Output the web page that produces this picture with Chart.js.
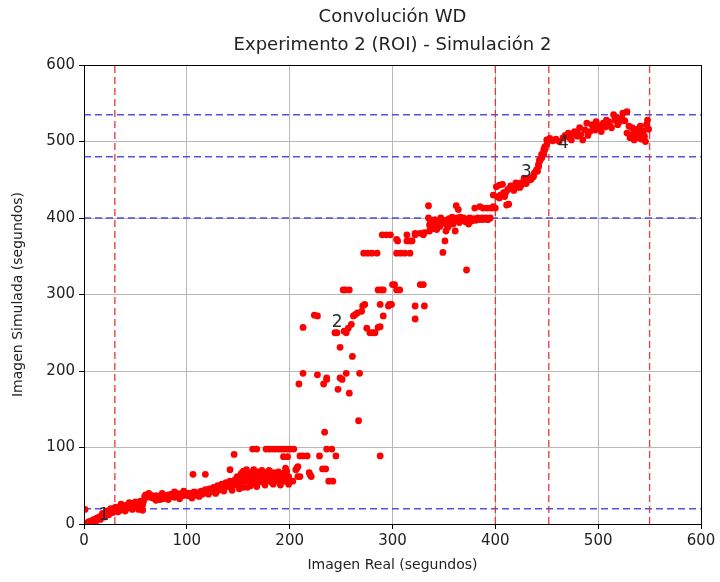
<!DOCTYPE html>
<html>
<head>
<meta charset="utf-8">
<script src="https://cdn.jsdelivr.net/npm/chart.js@4/dist/chart.umd.min.js"></script>
<style>
  html, body { margin: 0; padding: 0; background: #fff; }
  canvas { display: block; }
</style>
</head>
<body>
<canvas id="c" width="720" height="582"></canvas>
<script>
// ---- Data (seconds) : [Imagen Real, Imagen Simulada] ----
const segStart = [[0,0],[1,0],[2,1],[3,1],[4,2],[5,3],[6,3],[7,4],[8,4],[9,5],[10,6],[11,6],[12,7],[13,8],[14,8],[15,9],[16,10],[17,11],[18,11],[19,12],[20,13],[21,14],[22,14],[23,15],[24,16],[25,17],[26,17],[27,18],[28,19],[29,20],[30,21],[1,19],[12,4],[16,6],[20,9],[24,12],[18,14],[22,17],[26,20],[28,15]];
const segLow = [[31,22],[32,18],[33,21],[34,17],[35,20],[36,23],[37,19],[38,21],[39,24],[40,20],[41,22],[42,25],[43,21],[44,23],[45,26],[46,22],[47,24],[48,27],[49,23],[50,25],[51,28],[52,22],[53,26],[54,24],[55,27],[56,20],[57,25],[58,30],
  [33,16],[36,26],[40,17],[44,28],[47,19],[50,29],[53,19],[55,30],[57,18],
  [59,36],[60,38],[61,35],[62,37],[63,36],[64,38],[65,35],[66,37],[67,34],[68,36],[69,35],[70,37],[71,33],[72,35],[73,36],[74,32],[75,34],[76,36],[77,33],[78,35],[79,37],[80,34],[81,36],[82,38],[83,35],[84,37],[85,39],[86,36],[87,38],[88,35],[89,37],[90,40],[91,37],[92,39],[93,36],[94,38],[95,40],[96,37],[97,39],[98,41],[99,38],[100,40],
  [63,40],[70,31],[76,40],[82,32],[88,42],[93,33],[97,43]];
const segBand = [[101,37],[103,40],[104,36],[106,39],[107,42],[108,38],[110,41],[111,37],[112,40],[114,43],[115,39],[117,42],[118,45],[119,41],[120,44],[122,46],[123,42],[125,45],[126,48],[127,43],[129,46],[130,50],[131,44],[133,48],[134,52],[135,47],[137,50],[138,54],[139,49],[141,52],[142,56],[143,48],[145,55],[146,51],[147,58],[148,53],[150,57],[151,61],[152,54],[154,59],[155,48],[156,62],[157,56],[158,60],[160,64],[161,57],[162,50],[163,62],[165,58],[166,65],[167,52],[168,60],[170,63],[171,55],[172,66],[174,59],[175,62],[176,56],[178,64],[179,60],[181,58],[182,55],[184,62],[185,66],[187,57],[188,63],[190,55],[192,61],[193,56],[195,64],[196,58],[198,55],[199,62],
  [105,34],[112,36],[121,39],[128,40],[136,43],[144,44],[149,62],[153,66],[157,69],[161,67],[165,71],[169,68],[173,70],[177,67],[180,70],[186,64],[189,68],[193,66],[197,69],[151,46],[159,48],[168,49],[176,51],[184,52],[191,51],[199,52]];
const segBandOut = [[106,65],[118,65],[142,71],[146,91],[155,69],[158,71],[164,98],[168,98],[171,64],[177,98],[180,98],[183,98],[184,67],[186,98],[189,98],[192,98],[194,88],[195,98],[196,73],[198,88],[198,98],[201,98],[204,98],
  [190,56],[195,56],[203,56],[207,73],[208,75],[206,71],[208,62],[210,62],[210,89],[213,89],[217,89],[219,67],[220,64],[221,62],[229,89],[232,72],[235,72],[234,120],[236,98],[238,56],[241,98],[242,56],[245,89],[288,89],[267,135]];
const segRise = [[209,183],[213,197],[213,257],[224,273],[227,272],[227,195],[233,183],[236,189],[236,191],[247,176],[249,191],[251,189],[255,197],[258,171],[268,197],[249,231],[261,219],[252,306],[254,306],[258,306],[246,250],[244,250],[253,252],[255,250],[257,256],[260,261],[262,272],[266,276],[270,278],[271,285],[264,274],[275,256],[278,250],[281,250],[283,250],[286,257],[288,258],[291,272],[273,287],[288,287],[297,287],[299,287],[296,285],[286,306],[289,306],[291,306],[302,313],[304,306],[307,306],[300,313],[327,313],[330,313],[322,285],[331,285],[322,268],[272,354],[276,354],[280,354],[285,354],[294,378],[290,378],[298,378],[304,372],[305,370]];
const segPlateau = [[304,354],[308,354],[312,354],[317,354],[314,378],[314,370],[317,370],[319,370],[322,378],[322,380],[327,380],[330,378],[331,381],[336,383],[335,416],[343,385],[351,370],[349,355],[352,383],[361,383],[362,416],[364,411],[372,332],[380,413],[385,415],[388,413],[392,413],[396,413],[398,415],[400,413],[336,391],[341,386],
  [335,400],[337,395],[339,392],[341,398],[343,390],[345,396],[347,400],[349,393],[351,397],[353,391],[355,399],[357,395],[359,392],[361,398],[363,400],[365,394],[367,397],[369,400],[371,395],[373,398],[375,400],[377,396],[379,399],[381,397],[383,400],[385,398],[387,400],[389,399],[391,400],[393,398],[395,400],[388,398],[392,398],
  [338,388],[346,389],[354,388],[358,401],[366,401],[374,392]];
const segClimb = [[401,441],[404,443],[398,430],[404,426],[409,428],[411,417],[408,433],[412,437],[416,439],[419,441],[422,443],[425,446],[429,448],[432,450],[435,451],[437,454],[438,459],[440,463],[442,470],[443,476],[445,483],[447,489],[448,493],[450,496],[451,500],[414,439],[421,440],[426,444],[434,450],[437,455],[441,461],[442,467],[443,474],[445,478],[447,483],[448,489],[407,444],[410,433],[413,418],[415,442],[405,430],[402,428],
  [418,436],[424,440],[430,445],[420,446],[428,452]];
const segTop = [[450,502],[453,504],[456,501],[459,503],[462,500],[466,505],[471,511],[474,502],[477,513],[480,507],[482,518],[485,502],[489,524],[492,513],[495,520],[498,526],[502,518],[505,524],[508,528],[511,522],[515,535],[518,531],[521,526],[524,537],[528,539],
  [468,508],[472,505],[476,509],[479,512],[483,509],[487,515],[490,508],[494,522],[497,515],[500,521],[503,513],[507,519],[510,526],[513,518],[516,528],[519,522],[523,531],[526,527]];
const segTail = [[528,511],[531,505],[533,518],[535,502],[537,512],[539,508],[541,520],[542,503],[544,514],[545,507],[547,522],[548,528],[546,500],[530,520],[536,509],[540,505],[543,511],[538,516],[534,510],[549,516]];

// reference lines
const vLines = [30, 400, 452, 550];
const hLines = [20, 400, 480, 535];
// point labels
const labelTexts = ['1', '2', '3', '4'];
const labelX = [14, 241, 425, 461];
const labelY = [5, 258, 454, 491];
// titles
const titleLines = ['Convolución WD', 'Experimento 2 (ROI) - Simulación 2'];
// axes
const axisMin = 0, axisMax = 600, axisStep = 100;

const FONT = "'DejaVu Sans', 'Liberation Sans', sans-serif";

const allPoints = [].concat(segStart, segLow, segBand, segBandOut, segRise, segPlateau, segClimb, segTop, segTail)
  .map(([x, y]) => ({x, y}));

const datasets = [];
vLines.forEach(v => datasets.push({
  data: [{x: v, y: axisMin}, {x: v, y: axisMax}],
  showLine: true, pointRadius: 0, borderColor: 'rgba(225,40,40,0.85)', borderWidth: 1.4,
  borderDash: [7, 4], order: 2
}));
hLines.forEach(h => datasets.push({
  data: [{x: axisMin, y: h}, {x: axisMax, y: h}],
  showLine: true, pointRadius: 0, borderColor: 'rgba(40,40,220,0.8)', borderWidth: 1.4,
  borderDash: [7, 4], order: 2
}));
datasets.push({
  data: allPoints, pointRadius: 3.4, pointBackgroundColor: '#ff0000', pointBorderWidth: 0,
  borderColor: '#ff0000', showLine: false, order: 1
});

const extras = {
  id: 'extras',
  afterDatasetsDraw(chart) {
    const {ctx, scales: {x, y}} = chart;
    ctx.save();
    ctx.fillStyle = '#2a2a2a';
    ctx.font = '17px ' + FONT;
    ctx.textAlign = 'left';
    ctx.textBaseline = 'alphabetic';
    labelTexts.forEach((t, i) => ctx.fillText(t, x.getPixelForValue(labelX[i]), y.getPixelForValue(labelY[i])));
    ctx.restore();
  },
  afterDraw(chart) {
    const {ctx, chartArea: a} = chart;
    ctx.save();
    ctx.strokeStyle = '#000';
    ctx.lineWidth = 1;
    ctx.strokeRect(Math.round(a.left) + 0.5, Math.round(a.top) + 0.5, Math.round(a.right - a.left), Math.round(a.bottom - a.top));
    // title, centred over the axes like the reference
    const cx = (a.left + a.right) / 2;
    ctx.fillStyle = '#222';
    ctx.font = '18px ' + FONT;
    ctx.textAlign = 'center';
    ctx.textBaseline = 'middle';
    ctx.fillText(titleLines[0], cx, 17);
    ctx.fillText(titleLines[1], cx, 45);
    ctx.restore();
  }
};

new Chart(document.getElementById('c'), {
  type: 'scatter',
  data: { datasets },
  plugins: [extras],
  options: {
    responsive: false,
    devicePixelRatio: 1,
    animation: false,
    layout: { padding: { left: 0, right: 19, top: 65, bottom: 0 } },
    plugins: {
      legend: { display: false },
      tooltip: { enabled: false },
      title: { display: false }
    },
    scales: {
      x: {
        type: 'linear', min: axisMin, max: axisMax,
        ticks: { stepSize: axisStep, color: '#222', font: { family: FONT, size: 15 }, padding: 3 },
        grid: { color: '#b8b8b8', lineWidth: 1, tickLength: 5, tickColor: '#000' },
        border: { display: true, color: '#000', width: 1 },
        title: { display: true, text: 'Imagen Real (segundos)', color: '#222',
                 font: { family: FONT, size: 14 }, padding: { top: 0, bottom: 8 } },
        afterFit(s) { s.height = 58; }
      },
      y: {
        type: 'linear', min: axisMin, max: axisMax,
        ticks: { stepSize: axisStep, color: '#222', font: { family: FONT, size: 15 }, padding: 4 },
        grid: { color: '#b8b8b8', lineWidth: 1, tickLength: 5, tickColor: '#000' },
        border: { display: true, color: '#000', width: 1 },
        title: { display: true, text: 'Imagen Simulada (segundos)', color: '#222',
                 font: { family: FONT, size: 14 }, padding: { top: 10, bottom: 0 } },
        afterFit(s) { s.width = 84; }
      }
    }
  }
});
</script>
</body>
</html>
